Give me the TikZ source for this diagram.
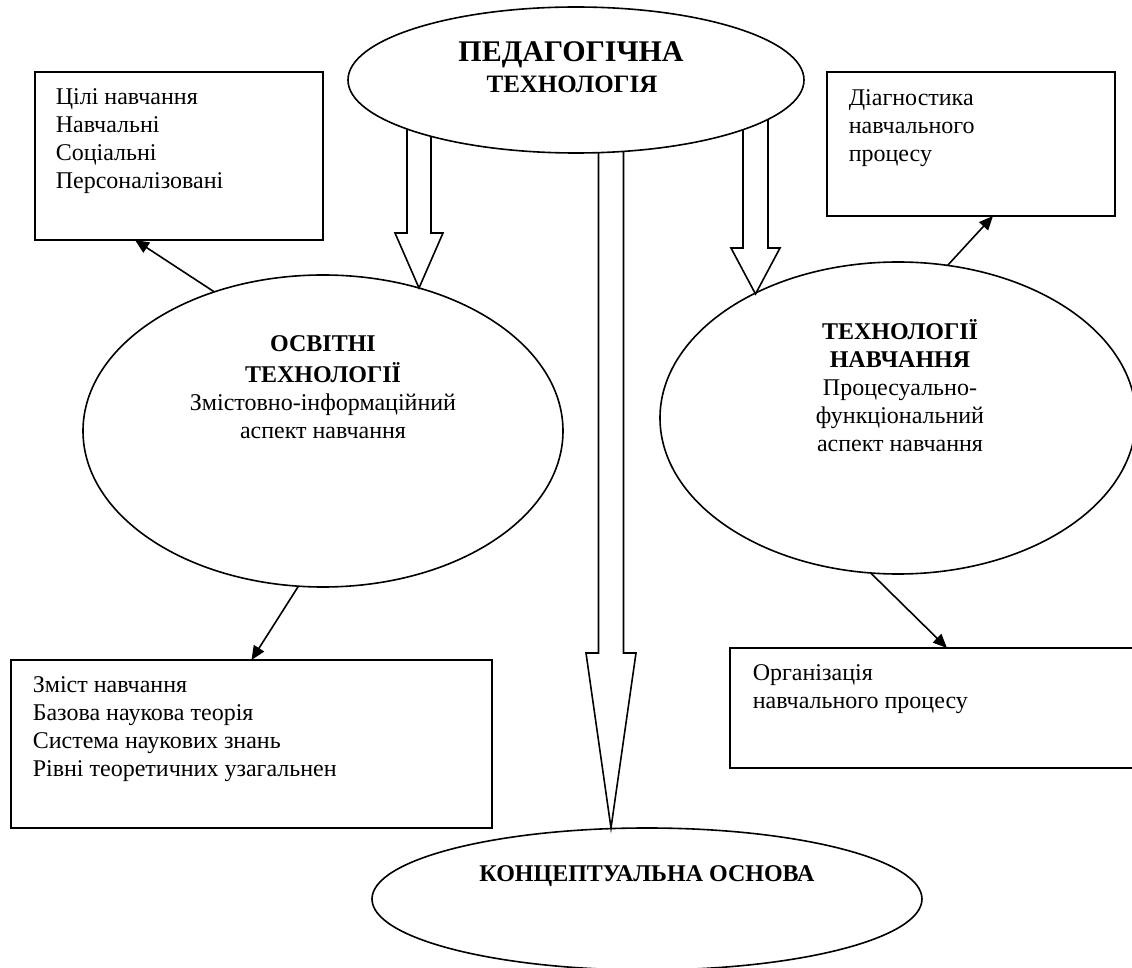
\documentclass[tikz,border=0pt]{standalone}
\usepackage{fontspec}
\setmainfont{Liberation Serif}
\usetikzlibrary{shapes.geometric,arrows.meta,calc}
\begin{document}
\begin{tikzpicture}[x=0.5pt,y=-0.5pt,line width=0.8pt,
  every node/.style={font=\fontsize{12}{14}\selectfont},
  ell/.style={draw,ellipse,inner sep=0pt,outer sep=0pt,fill=white},
  box/.style={draw,rectangle,inner sep=0pt,outer sep=0pt,anchor=north west},
  txt/.style={anchor=north west,inner sep=0pt,align=left},
  ctxt/.style={anchor=north,inner sep=0pt,align=center},
  ttl/.style={font=\fontsize{12}{14}\selectfont\bfseries},
  link/.style={-{Triangle[length=7pt,width=6pt]}},
  blk/.style={draw,fill=white,line join=miter}]
\useasboundingbox (0,0) rectangle (1132,968);
\clip (0,0) rectangle (1132,968);

% boxes
\node[box,minimum width=144pt,minimum height=84pt] (tl) at (35,72) {};
\node[txt] (tlt) at (55,84.4) {\strut Цілі навчання\\Навчальні\\Соціальні\\Персоналізовані};
\node[box,minimum width=144pt,minimum height=72pt] (tr) at (827,72) {};
\node[txt] (trt) at (848,85.4) {\strut Діагностика\\навчального\\процесу};
\node[box,minimum width=240.5pt,minimum height=84pt] (bl) at (11,660) {};
\node[txt] (blt) at (32,672.4) {\strut Зміст навчання\\Базова наукова теорія\\Система наукових знань\\Рівні теоретичних узагальнен};
\node[box,minimum width=205pt,minimum height=60pt] (br) at (730,648) {};
\node[txt] (brt) at (752,660.4) {\strut Організація\\навчального процесу};

% lower ellipses
\node[ell,minimum width=240pt,minimum height=156pt] (oe) at (323,431) {};
\node[ctxt] (oet) at (323,331.4) {\strut\textbf{ОСВІТНІ}\\\textbf{ТЕХНОЛОГІЇ}\\Змістовно-інформаційний\\аспект навчання};
\node[ell,minimum width=238pt,minimum height=156pt] (te) at (898,418) {};
\node[ctxt] (tet) at (900,318.4) {\strut\textbf{ТЕХНОЛОГІЇ}\\\textbf{НАВЧАННЯ}\\Процесуально-\\функціональний\\аспект навчання};
\node[ell,minimum width=275pt,minimum height=71pt] (ce) at (647,899) {};
\node[ttl,anchor=base] (cet) at (647,881) {КОНЦЕПТУАЛЬНА ОСНОВА};

% block arrows from the top ellipse
\draw[blk] (407,80) -- (407,233) -- (395,233) -- (419,288) -- (443,233) -- (431,233) -- (431,80);
\draw[blk] (598.5,80) -- (598.5,653) -- (586,653) -- (611,828) -- (636,653) -- (623.5,653) -- (623.5,80);
\draw[blk] (743,80) -- (743,248) -- (731,248) -- (755.5,294) -- (780,248) -- (768,248) -- (768,80);

% top ellipse
\node[ell,minimum width=228pt,minimum height=73pt] (pt) at (576,80) {};
\node[ttl,anchor=base,font=\fontsize{15}{17}\selectfont\bfseries] (pt1) at (571,62) {ПЕДАГОГІЧНА};
\node[ttl,anchor=base,font=\fontsize{12.5}{15}\selectfont\bfseries] (pt2) at (572,93) {ТЕХНОЛОГІЯ};

% thin arrows
\draw[link] (oe.128) -- ($(tl.south west)+(100,0)$);
\draw[link] (te.72) -- ($(tr.south west)+(166,0)$);
\draw[link] (oe.261.6) -- (bl.north);
\draw[link] (te.260.6) -- ($(br.north west)+(217,0)$);
\end{tikzpicture}
\end{document}
